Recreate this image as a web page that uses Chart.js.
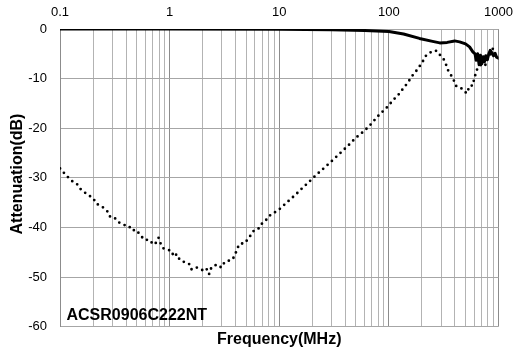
<!DOCTYPE html>
<html><head><meta charset="utf-8">
<script src="https://cdn.jsdelivr.net/npm/chart.js@4.4.1/dist/chart.umd.min.js"></script>
<style>html,body{margin:0;padding:0;background:#fff;}#wrap{width:522px;height:356px;}</style>
</head><body><div id="wrap"><canvas id="c" width="522" height="356"></canvas></div>
<script>
const decadeLabels = ['0.1', '1', '10', '100', '1000'];
const minorMantissas = [1, 2, 3, 4, 5, 6, 7, 8, 9];
const partName = 'ACSR0906C222NT';
const xTitle = 'Frequency(MHz)';
const yTitle = 'Attenuation(dB)';

const freqSolid = [0.1,1,10,30,60,100,136,190,250,291,340,398,441,500,544,583,610,625,645,665,685,705,725,745,765,790,815,840,870,900,930,960,1000];
const attSolid = [0,0,-0.05,-0.15,-0.3,-0.5,-1.0,-1.9,-2.5,-2.8,-2.7,-2.4,-2.6,-3.0,-3.6,-4.6,-5.0,-6.3,-5.0,-7.2,-5.3,-7.0,-5.6,-6.6,-5.4,-6.2,-5.0,-4.3,-4.8,-5.4,-4.9,-5.7,-5.9];

const freqDotted = [0.1,0.1076,0.1186,0.1297,0.1422,0.1545,0.169,0.1846,0.2009,0.2138,
0.2323,0.2523,0.2742,0.2884,0.32,0.35,0.375,0.396,0.425,0.452,
0.495,0.542,0.589,0.653,0.714,0.76,0.793,0.826,0.873,0.955,
1.038,1.091,1.161,1.227,1.306,1.41,1.532,1.587,1.664,1.771,
1.926,2.08,2.194,2.291,2.372,2.524,2.648,2.798,2.963,3.107,
3.355,3.614,3.827,4.012,4.188,4.457,4.745,5.085,5.483,5.886,
6.436,6.887,7.484,7.972,8.85,9.75,10.66,11.69,12.79,13.97,
15.31,16.75,18.32,20.19,22.08,24.2,26.63,29.17,31.91,34.9,
38.49,42.1,46.12,50.78,55.64,61.2,66.6,72.3,79.2,86.1,
94.2,103.1,112,121.7,130.6,141.9,152.9,165.1,178.3,192.2,
205.5,217.8,236.6,250.2,272.2,291.2,314.6,331.3,341.8,366.3,
389.9,406.4,429.7,460.3,486.6,510.6,529.3,548.3,583.4,595.6,
616.6,638.3,669.9,703.1,753.4,797.3,841.4,871,908.2,960.7];
const attDotted = [-28.1,-28.9,-29.9,-30.7,-31.2,-32.3,-33.0,-33.6,-34.1,-35.2,
-35.6,-36.1,-36.9,-38.0,-38.2,-39.1,-39.4,-39.6,-39.7,-40.6,
-40.5,-41.6,-42.5,-42.5,-43.5,-43.0,-42.1,-43.2,-44.2,-44.5,
-44.7,-45.9,-45.4,-46.4,-46.9,-47.0,-47.5,-48.5,-48.3,-48.1,
-48.4,-48.9,-48.4,-49.4,-48.3,-48.1,-47.5,-47.7,-48.1,-47.3,
-46.7,-46.7,-46.1,-45.1,-44.0,-43.2,-43.3,-42.6,-41.6,-40.6,
-40.3,-39.3,-38.7,-37.8,-37.1,-36.6,-35.8,-35.0,-34.2,-33.5,
-32.6,-31.8,-31.0,-30.1,-29.3,-28.5,-27.7,-26.9,-26.1,-25.3,
-24.4,-23.6,-22.7,-21.8,-21.1,-20.3,-19.5,-18.6,-17.6,-16.8,
-16.0,-15.0,-14.1,-13.3,-12.4,-11.4,-10.4,-9.3,-8.4,-7.4,
-6.4,-5.4,-4.8,-4.4,-4.4,-5.2,-6.0,-7.1,-8.1,-9.2,
-10.3,-11.4,-11.8,-12.0,-12.4,-13.0,-12.2,-11.4,-11.4,-10.3,
-9.1,-8.1,-7.5,-7.1,-7.4,-5.9,-5.2,-4.4,-3.4,-3.4];

const FONT = "'Liberation Sans', Arial, sans-serif";
const decadeValues = decadeLabels.map(Number);
function isDecade(v) { return decadeValues.some(d => Math.abs(v - d) < d * 1e-6); }
function decadeLabel(v) { const i = decadeValues.findIndex(d => Math.abs(v - d) < d * 1e-6); return i >= 0 ? decadeLabels[i] : ''; }

const textPlugin = {
  id: 'texts',
  afterDraw(chart) {
    const ctx = chart.ctx, a = chart.chartArea;
    ctx.save();
    ctx.fillStyle = '#000';
    ctx.font = 'bold 16px ' + FONT;
    ctx.textAlign = 'center';
    ctx.textBaseline = 'middle';
    ctx.fillText(xTitle, (a.left + a.right) / 2, 340);
    ctx.save();
    ctx.translate(18, 174);
    ctx.rotate(-Math.PI / 2);
    ctx.fillText(yTitle, 0, 0);
    ctx.restore();
    ctx.textAlign = 'left';
    ctx.textBaseline = 'alphabetic';
    ctx.fillText(partName, 66.5, 320);
    ctx.restore();
  }
};

new Chart(document.getElementById('c'), {
  type: 'line',
  data: {
    datasets: [
      {
        label: 'solid',
        data: freqSolid.map((f, i) => ({x: f, y: attSolid[i]})),
        borderColor: '#000', borderWidth: 3, pointRadius: 0, tension: 0,
        borderJoinStyle: 'round', borderCapStyle: 'round'
      },
      {
        label: 'dotted',
        data: freqDotted.map((f, i) => ({x: f, y: attDotted[i]})),
        borderColor: '#000', borderWidth: 2.8, pointRadius: 0, tension: 0,
        borderDash: [0, 5.9], borderCapStyle: 'round', borderJoinStyle: 'round'
      }
    ]
  },
  options: {
    responsive: false,
    animation: false,
    devicePixelRatio: 1,
    layout: { padding: { left: 0, right: 19.7, top: 0, bottom: 29.4 } },
    plugins: { legend: { display: false }, tooltip: { enabled: false } },
    scales: {
      x: {
        type: 'logarithmic', position: 'top', min: 0.1, max: 1000,
        afterBuildTicks(scale) {
          const t = [];
          decadeValues.slice(0, -1).forEach(d => minorMantissas.forEach(m => t.push({ value: +(m * d).toPrecision(6) })));
          t.push({ value: decadeValues[decadeValues.length - 1] });
          scale.ticks = t;
        },
        afterFit(scale) { scale.height = 29; },
        ticks: {
          autoSkip: false, maxRotation: 0, minRotation: 0, padding: 9,
          color: '#000', font: { family: FONT, size: 13 },
          callback: (v) => decadeLabel(v)
        },
        grid: {
          drawTicks: false,
          color: (c) => (c.tick && isDecade(c.tick.value)) ? '#8c8c8c' : '#b3b3b3',
          lineWidth: 1
        },
        border: { display: false }
      },
      y: {
        min: -60, max: 0,
        afterFit(scale) { scale.width = 60; },
        ticks: { stepSize: 10, padding: 13, color: '#000', font: { family: FONT, size: 13 } },
        grid: { drawTicks: false, color: '#a6a6a6', lineWidth: 1 },
        border: { display: true, color: '#8c8c8c', width: 1 }
      }
    }
  },
  plugins: [textPlugin]
});
</script></body></html>
